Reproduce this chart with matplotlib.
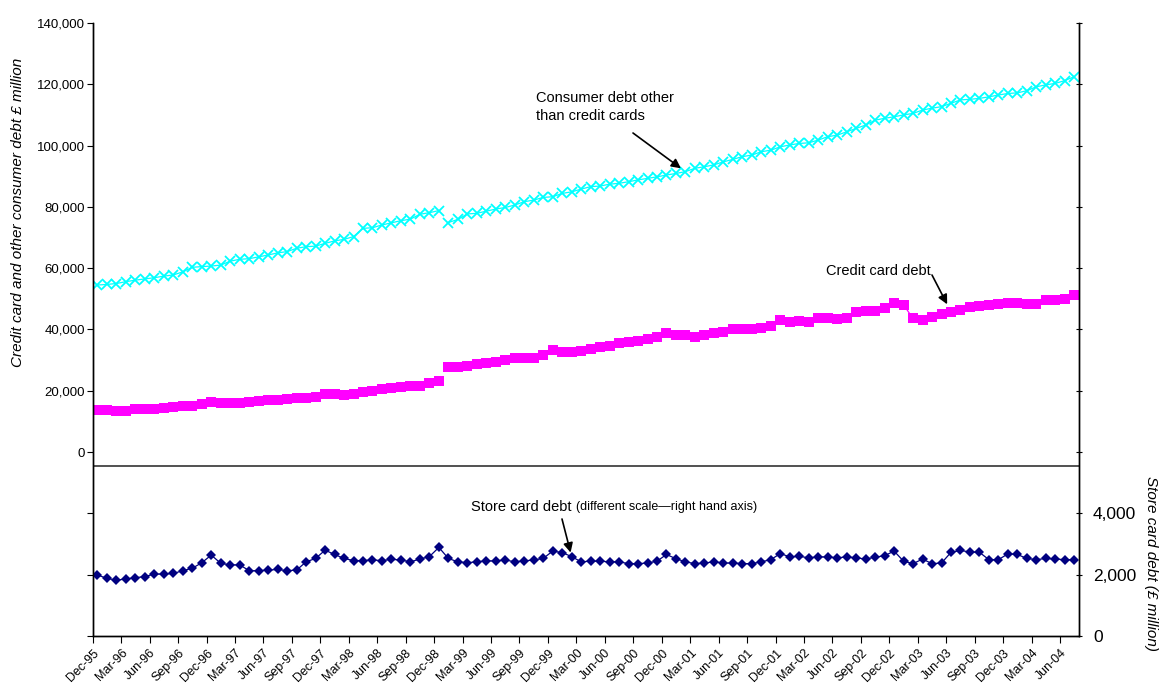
import matplotlib
matplotlib.use("Agg")
import matplotlib.pyplot as plt
from matplotlib.ticker import FixedLocator, FuncFormatter
import pandas as pd
import numpy as np

plt.rcParams['font.family'] = ['Liberation Sans', 'DejaVu Sans']

# monthly series, Dec-95 to Jul-04, £ million
months = pd.date_range('1995-12-01', periods=104, freq='MS').strftime('%b-%y').tolist()

other_debt = [54500, 54700, 55000, 55600, 56100, 56500, 56900, 57400, 57800, 58800,
              60300, 60500, 60700, 61000, 62300, 62900, 63100, 63700, 64300, 65000,
              65400, 66500, 67000, 67200, 68100, 68900, 69400, 70300, 73000, 73200,
              74100, 74800, 75500, 76000, 77600, 78100, 78800, 74900, 75900, 77700,
              77900, 78600, 79300, 79800, 80600, 81700, 82200, 83100, 83300, 84400,
              84900, 85800, 86600, 86800, 87400, 87700, 88200, 88800, 89300, 89800,
              90400, 90900, 91500, 92600, 93100, 93700, 94700, 95500, 96400, 96900,
              98000, 98500, 99600, 100200, 100700, 100900, 101800, 102900, 103400, 104500,
              105600, 106700, 108300, 108900, 109400, 110000, 110500, 111600, 112200, 112700,
              113800, 114900, 115100, 115400, 115900, 116500, 117000, 117200, 117900, 119200,
              119800, 120300, 121200, 122500]

credit_card = [13700, 13700, 13400, 13400, 14000, 14000, 14100, 14500, 14800, 14900,
               15000, 15700, 16300, 15900, 15900, 15900, 16400, 16600, 17000, 16900,
               17300, 17500, 17700, 18000, 19100, 18900, 18600, 19100, 19700, 20000,
               20600, 20800, 21300, 21400, 21600, 22400, 23300, 27800, 27600, 28100,
               28900, 29100, 29500, 30000, 30600, 30600, 30800, 31700, 33300, 32700,
               32500, 33000, 33600, 34400, 34700, 35500, 36000, 36300, 36800, 37400,
               38700, 38200, 38200, 37400, 38200, 38900, 39300, 40000, 40100, 40100,
               40400, 41100, 43100, 42500, 42800, 42500, 43600, 43900, 43300, 43900,
               45600, 46100, 46100, 46900, 48500, 48000, 43600, 43100, 44200, 44900,
               45800, 46300, 47200, 47600, 48000, 48200, 48700, 48500, 48400, 48400,
               49600, 49600, 50100, 51200]

store_card = [1990, 1880, 1820, 1860, 1900, 1940, 2020, 2020, 2040, 2130,
              2210, 2390, 2640, 2370, 2320, 2320, 2130, 2130, 2150, 2170,
              2130, 2150, 2420, 2530, 2800, 2660, 2530, 2460, 2460, 2480,
              2460, 2500, 2480, 2420, 2510, 2590, 2890, 2530, 2420, 2390,
              2420, 2450, 2450, 2480, 2420, 2450, 2480, 2530, 2770, 2720,
              2590, 2420, 2440, 2440, 2420, 2420, 2360, 2360, 2380, 2440,
              2660, 2520, 2420, 2360, 2380, 2420, 2380, 2380, 2360, 2360,
              2420, 2490, 2690, 2580, 2600, 2550, 2580, 2580, 2550, 2580,
              2550, 2510, 2570, 2620, 2770, 2440, 2360, 2510, 2360, 2380,
              2730, 2790, 2740, 2730, 2490, 2490, 2680, 2660, 2530, 2490,
              2530, 2510, 2490, 2490]

x = np.arange(len(months))
brk = 37  # series break at Jan-99

fig = plt.figure(figsize=(11.59, 6.88), dpi=100)
ax = fig.add_axes([0.080, 0.0756, 0.851, 0.891])
ax2 = ax.twinx()

cyan = '#00FFFF'
magenta = '#FF00FF'
navy = '#000080'

for sl in (slice(0, brk), slice(brk, None)):
    ax.plot(x[sl], other_debt[sl], color=cyan, lw=0.9, marker='x', ms=7, mew=1.3)
    ax.plot(x[sl], credit_card[sl], color=magenta, lw=0.9, marker='s', ms=7.5, mew=0)
ax2.plot(x, store_card, color=navy, lw=0.9, marker='D', ms=5.5, mew=0)

# separator between the two panels
ax.axhline(-4400, color='#333333', lw=1.2)

ax.set_xlim(-0.5, len(months) - 0.5)
ax.set_ylim(-60000, 140000)
ax2.set_ylim(0, 20000)

ax.yaxis.set_major_locator(FixedLocator(np.arange(-60000, 140001, 20000)))
ax.yaxis.set_major_formatter(FuncFormatter(lambda v, p: f'{v:,.0f}' if v >= 0 else ''))
ax2.yaxis.set_major_locator(FixedLocator(np.arange(0, 20001, 2000)))
ax2.yaxis.set_major_formatter(FuncFormatter(lambda v, p: f'{v:,.0f}' if v <= 4000 else ''))

tick_pos = np.arange(0, len(months), 3) - 0.5
ax.set_xticks(tick_pos)
ax.set_xticklabels([months[i] for i in range(0, len(months), 3)], rotation=45,
                   ha='right', va='top', rotation_mode='anchor', fontsize=9)
ax.tick_params(axis='x', length=5, direction='out', pad=3)
ax.tick_params(axis='y', length=4, direction='out', labelsize=9.5, pad=1.5)
ax2.tick_params(axis='y', length=4, direction='inout', labelsize=12.5, pad=8)

for a in (ax, ax2):
    a.spines['top'].set_visible(False)
    for s in ('left', 'right', 'bottom'):
        a.spines[s].set_linewidth(1.0)

fig.text(18 / 1159, 1 - 212 / 688, 'Credit card and other consumer debt £ million',
         rotation=90, style='italic', fontsize=11, ha='center', va='center')
fig.text(1151 / 1159, 1 - 563 / 688, 'Store card debt (£ million)',
         rotation=270, style='italic', fontsize=11, ha='center', va='center')

# series labels with arrows
fig.text(536 / 1159, 1 - 107 / 688, 'Consumer debt other\nthan credit cards',
         fontsize=10.5, ha='left', va='center', linespacing=1.3)
ax.annotate('', xy=(62, other_debt[62]), xytext=(633, 688 - 133), textcoords='figure pixels',
            arrowprops=dict(arrowstyle='-|>', color='black', lw=1.2, mutation_scale=14,
                            shrinkA=0, shrinkB=4))

fig.text(826 / 1159, 1 - 271 / 688, 'Credit card debt', fontsize=10.5, ha='left', va='center')
ax.annotate('', xy=(90, credit_card[90]), xytext=(932, 688 - 275), textcoords='figure pixels',
            arrowprops=dict(arrowstyle='-|>', color='black', lw=1.2, mutation_scale=14,
                            shrinkA=0, shrinkB=6))

fig.text(471 / 1159, 1 - 507 / 688, 'Store card debt', fontsize=10.5, ha='left', va='center')
fig.text(576 / 1159, 1 - 507 / 688, '(different scale\u2014right hand axis)',
         fontsize=9, ha='left', va='center')
ax2.annotate('', xy=(50, store_card[50]), xytext=(562, 688 - 519), textcoords='figure pixels',
             arrowprops=dict(arrowstyle='-|>', color='black', lw=1.2, mutation_scale=14,
                             shrinkA=0, shrinkB=3))

fig.savefig('out.png', dpi=100)
